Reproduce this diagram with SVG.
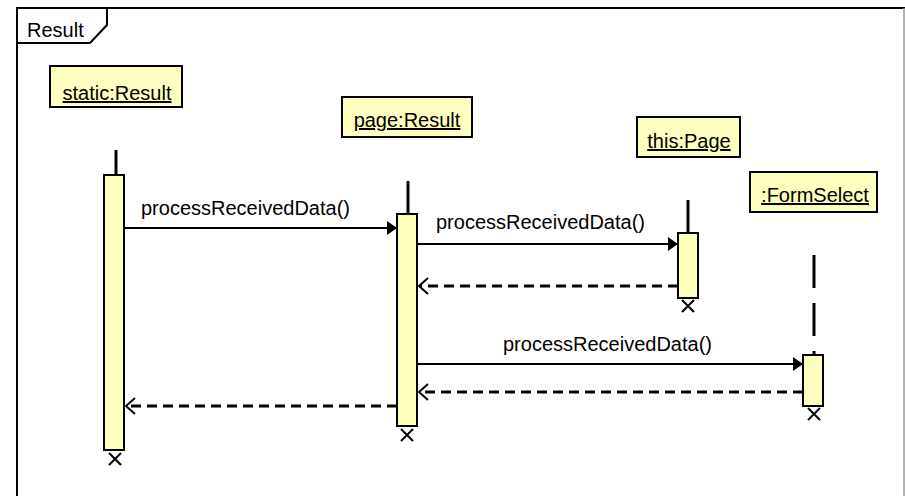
<svg xmlns="http://www.w3.org/2000/svg" width="905" height="496" viewBox="0 0 905 496">
<style>
text{font-family:"Liberation Sans",Arial,sans-serif;font-size:20px;fill:#000}
.obj{fill:#ffffc0;stroke:#000;stroke-width:2}
.act{fill:#ffffc0;stroke:#000;stroke-width:2}
.life{stroke:#000;stroke-width:3}
.msg{stroke:#000;stroke-width:2;fill:none}
.ret{stroke:#000;stroke-width:3;fill:none;stroke-dasharray:10,6}
.x{stroke:#000;stroke-width:2}
.u{text-decoration:underline}
</style>
<defs>
<marker id="fill" markerWidth="10" markerHeight="14" refX="9" refY="7" orient="auto" markerUnits="userSpaceOnUse">
<path d="M0,0 L10,7 L0,14 Z" fill="#000"/>
</marker>
<marker id="open" markerWidth="12" markerHeight="18" refX="10" refY="9" orient="auto" markerUnits="userSpaceOnUse">
<path d="M1,1 L10,9 L1,17" fill="none" stroke="#000" stroke-width="2"/>
</marker>
</defs>
<rect width="905" height="496" fill="#fff"/>
<g id="frame">
<path d="M17,496 L17,8 L905,8" fill="none" stroke="#000" stroke-width="2"/>
<line x1="904" y1="8" x2="904" y2="496" stroke="#999" stroke-width="1.5"/>
<path d="M17,43 L90,43 L107,25 L107,8" fill="none" stroke="#000" stroke-width="2"/>
<text x="27" y="37">Result</text>
</g>
<g id="static">
<rect class="obj" x="50" y="66" width="132" height="41"/>
<text class="u" x="117" y="100" text-anchor="middle">static:Result</text>
<line class="life" x1="116" y1="150" x2="116" y2="175"/>
<rect class="act" x="104" y="175" width="20" height="275"/>
<path class="x" d="M109,453 L121,465 M121,453 L109,465"/>
</g>
<g id="page">
<rect class="obj" x="342" y="97" width="130" height="40"/>
<text class="u" x="407" y="127" text-anchor="middle">page:Result</text>
<line class="life" x1="408" y1="181" x2="408" y2="214"/>
<rect class="act" x="397" y="214" width="20" height="212"/>
<path class="x" d="M401,429 L413,441 M413,429 L401,441"/>
</g>
<g id="thisPage">
<rect class="obj" x="637" y="117" width="103" height="40"/>
<text class="u" x="689" y="148" text-anchor="middle">this:Page</text>
<line class="life" x1="688" y1="200" x2="688" y2="233"/>
<rect class="act" x="678" y="233" width="20" height="65"/>
<path class="x" d="M682,300 L694,312 M694,300 L682,312"/>
</g>
<g id="formSelect">
<rect class="obj" x="750" y="172" width="127" height="40"/>
<text class="u" x="815" y="202" text-anchor="middle">:FormSelect</text>
<line class="life" x1="814" y1="255" x2="814" y2="355" stroke-dasharray="33,15"/>
<rect class="act" x="803" y="355" width="20" height="51"/>
<path class="x" d="M808,408 L820,420 M820,408 L808,420"/>
</g>
<g id="connectors">
<line class="msg" x1="124" y1="228" x2="396" y2="228" marker-end="url(#fill)"/>
<text x="141" y="215">processReceivedData()</text>
<line class="msg" x1="417" y1="244" x2="677" y2="244" marker-end="url(#fill)"/>
<text x="436" y="229">processReceivedData()</text>
<line class="ret" x1="678" y1="286" x2="419" y2="286" marker-end="url(#open)"/>
<line class="msg" x1="417" y1="364" x2="802" y2="364" marker-end="url(#fill)"/>
<text x="503" y="351">processReceivedData()</text>
<line class="ret" x1="803" y1="392" x2="419" y2="392" marker-end="url(#open)"/>
<line class="ret" x1="397" y1="406" x2="126" y2="406" marker-end="url(#open)"/>
</g>
</svg>
